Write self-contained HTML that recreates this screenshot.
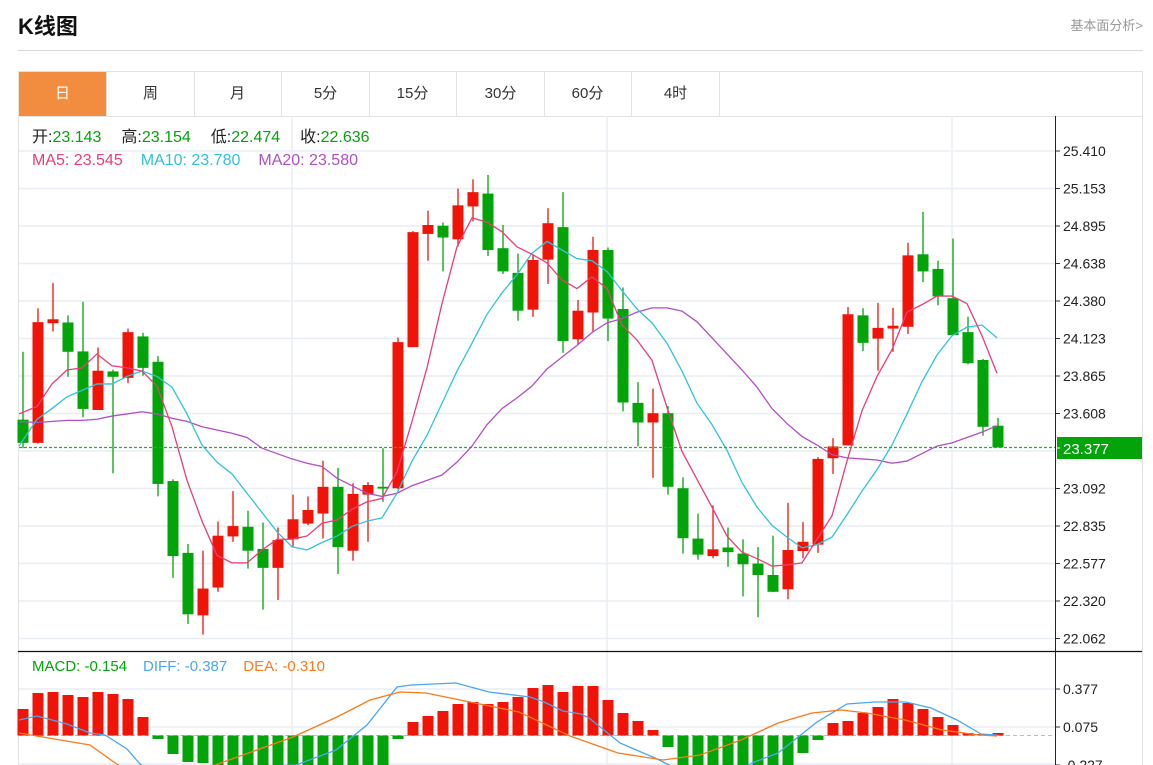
<!DOCTYPE html>
<html><head><meta charset="utf-8">
<style>
html,body{margin:0;padding:0;background:#fff;width:1153px;height:765px;overflow:hidden;font-family:"Liberation Sans","Noto Sans CJK SC",sans-serif;}
#t{position:absolute;left:18px;top:9px;font-size:22px;font-weight:bold;color:#111;}
#lk{position:absolute;right:10px;top:15px;font-size:13px;color:#999;}
#hr{position:absolute;left:18px;top:50px;width:1125px;height:1px;background:#d6d6d6;}
#tabs{position:absolute;left:18px;top:71px;width:1123px;height:44px;border:1px solid #e2e2e2;}
.tb{position:absolute;top:0;height:44px;width:87px;border-right:1px solid #e2e2e2;text-align:center;line-height:44px;font-size:15px;color:#333;}
svg{position:absolute;left:0;top:0;}
</style></head><body>
<div id="t">K线图</div>
<div id="lk">基本面分析&gt;</div>
<div id="hr"></div>
<div id="tabs">
<div class="tb" style="left:0;background:#f28c3e;color:#fff;">日</div>
<div class="tb" style="left:88px">周</div>
<div class="tb" style="left:175px">月</div>
<div class="tb" style="left:263px">5分</div>
<div class="tb" style="left:350px">15分</div>
<div class="tb" style="left:438px">30分</div>
<div class="tb" style="left:525px">60分</div>
<div class="tb" style="left:613px">4时</div>
</div>
<svg id="s" width="1153" height="765" xmlns="http://www.w3.org/2000/svg"></svg>
<script>
var s=document.getElementById('s');var h='';
var R='#f01408',G='#03a30a';
h+='<line x1="18.5" y1="116" x2="18.5" y2="765" stroke="#e2e2e2"/>';
h+='<line x1="1142.5" y1="116" x2="1142.5" y2="765" stroke="#e2e2e2"/>';
var ticks=['25.410','25.153','24.895','24.638','24.380','24.123','23.865','23.608','','23.092','22.835','22.577','22.320','22.062'];
for(var i=0;i<14;i++){var y=151+i*37.5;h+='<line x1="19" y1="'+y+'" x2="1055" y2="'+y+'" stroke="#e8eef3" stroke-width="1.5"/>';
 if(ticks[i]){h+='<line x1="1055" y1="'+y+'" x2="1060" y2="'+y+'" stroke="#333"/><text x="1063" y="'+(y+5)+'" font-size="14" fill="#222">'+ticks[i]+'</text>';}}
[292,607,952].forEach(function(x){h+='<line x1="'+x+'" y1="116" x2="'+x+'" y2="765" stroke="#e8eef3" stroke-width="1.5"/>';});
[689,727].forEach(function(y){h+='<line x1="19" y1="'+y+'" x2="1055" y2="'+y+'" stroke="#e8eef3" stroke-width="1.5"/>';});
h+='<line x1="19" y1="764" x2="1055" y2="764" stroke="#e8eef3" stroke-width="1.5"/>';
h+='<line x1="19" y1="735.5" x2="1055" y2="735.5" stroke="#9cc8e8" stroke-dasharray="4,3"/>';
var C=[['g',895,960,705,975],['r',622,960,583,962],['r',614,625,512,648],['g',623,705,603,775],['g',704,865,565,888],['r',758,868,693,868],['g',760,775,755,1045],['r',650,778,640,793],['g',662,750,652,772],['g',733,1075,717,1110],['g',1067,1277,1062,1338],['g',1268,1440,1243,1467],['r',1368,1443,1262,1497],['r',1220,1365,1180,1377],['r',1193,1222,1095,1237],['g',1195,1262,1150,1312],['g',1257,1310,1183,1427],['r',1232,1310,1197,1400],['r',1174,1230,1105,1250],['r',1148,1186,1110,1190],['r',1083,1158,1010,1228],['g',1083,1252,1030,1327],['r',1103,1262,1073,1290],['r',1078,1105,1070,1237],['g',1083,1088,975,1125],['r',678,1087,665,1090],['r',370,692,367,692],['r',350,375,310,450],['g',352,385,343,480],['r',295,390,248,410],['r',258,298,222,340],['g',262,420,210,437],['g',415,480,350,487],['g',484,590,430,618],['r',448,587,432,607],['r',345,447,303,515],['g',356,675,258,708],['r',590,670,560,683],['r',420,595,383,650],['g',420,612,413,675],['g',585,847,525,872],['g',848,903,790,970],['r',877,903,808,1058],['g',877,1083,857,1105],['g',1087,1227,1057,1270],['g',1228,1273,1158,1287],['r',1258,1277,1135,1283],['g',1253,1266,1197,1307],['g',1270,1300,1230,1390],['g',1298,1330,1252,1448],['g',1330,1377,1220,1378],['r',1260,1370,1128,1398],['r',1237,1263,1182,1283],['r',1005,1245,1000,1268],['r',970,1003,947,1047],['r',600,967,580,967],['g',603,680,583,703],['r',638,668,568,758],['r',632,640,582,705],['r',435,635,400,655],['g',432,480,313,510],['g',473,550,450,575],['g',555,658,388,658],['g',650,737,607,740],['g',728,915,725,940],['g',912,973,890,973]];
function Y(z){return 100+z/2.8;}
C.forEach(function(c,i){var x=23+15*i,col=c[0]=='r'?R:G;var t=Y(c[1]),b=Y(c[2]);if(b-t<1.5)b=t+1.5;
 h+='<line x1="'+x+'" y1="'+Y(c[3])+'" x2="'+x+'" y2="'+Y(c[4])+'" stroke="'+col+'" stroke-width="1.3"/>';
 h+='<rect x="'+(x-5.5)+'" y="'+t+'" width="11" height="'+(b-t)+'" fill="'+col+'"/>';});
function F(y){return 100+(y-100)*3/2.8;}
function pl(a,col,f){var p=[];for(var i=0;i<a.length;i+=2)p.push(a[i]+','+(f?F(a[i+1]):a[i+1]));return '<polyline points="'+p.join(' ')+'" fill="none" stroke="'+col+'" stroke-width="1.3"/>';}
var ma5=[19,393,37,386,52,365,67,352,82,350,97,337,112,348,127,350,142,353,157,367,172,405,187,455,202,493,217,525,232,532,247,532,262,520,277,510,292,510,307,507,322,495,337,492,352,482,367,475,382,472,397,447,412,400,427,350,442,290,457,237,472,210,487,214,502,223,517,237,532,244,547,252,562,268,577,276,592,265,607,276,622,310,637,324,652,343,667,387,682,428,697,454,712,480,727,507,742,522,757,528,772,535,787,534,802,532,817,510,832,488,847,437,862,390,877,358,892,333,907,298,922,291,937,283,952,283,967,290,982,320,997,355];
var ma10=[19,423,37,398,52,388,67,377,82,371,97,365,112,365,127,358,142,353,157,358,172,368,187,393,202,422,217,438,232,449,247,467,262,485,277,503,292,517,307,520,322,513,337,507,352,498,367,493,382,490,397,467,412,437,427,413,442,383,457,353,472,327,487,300,502,280,517,263,532,243,547,232,562,240,577,248,592,250,607,260,622,278,637,295,652,308,667,327,682,353,697,383,712,403,727,427,742,457,757,480,772,497,787,508,802,518,817,515,832,508,847,487,862,465,877,445,892,422,907,393,922,363,937,338,952,320,967,312,982,310,997,322];
var ma20=[19,400,37,401,67,399,82,399,97,398,112,395,127,393,142,391,157,393,172,397,187,400,202,405,217,408,232,411,247,415,262,425,277,430,292,435,307,439,322,442,337,453,352,460,367,467,382,470,397,467,412,460,427,455,442,450,457,438,472,423,487,403,502,388,517,378,532,367,547,351,562,340,577,329,592,317,607,308,622,304,637,298,652,294,667,294,682,297,697,307,712,322,727,337,742,352,757,368,772,388,787,402,802,414,817,422,832,431,847,434,862,435,877,436,892,439,907,437,922,430,937,423,952,420,967,415,982,410,997,404];
h+='<defs><clipPath id="cp"><rect x="19" y="116" width="1036" height="534"/></clipPath><clipPath id="cm"><rect x="19" y="652" width="1036" height="113"/></clipPath></defs>';
h+='<g clip-path="url(#cp)">'+pl(ma20,'#b04fc6',1)+pl(ma10,'#2fc3da',1)+pl(ma5,'#ec3c78',1)+'</g>';
h+='<line x1="19" y1="447.5" x2="1055" y2="447.5" stroke="#1db51d" stroke-width="1.2" stroke-dasharray="3,2"/>';
h+='<rect x="1057" y="437" width="85" height="22" fill="#03a30a"/><line x1="1055" y1="448" x2="1060" y2="448" stroke="#fff"/><text x="1063" y="454" font-size="15" fill="#fff">23.377</text>';
var MB=[709,693,692,695,697,692,694,699,717,739,754,762,763,766,766,766,766,766,766,766,766,766,766,766,766,739,722,716,711,704,702,704,702,697,688,685,692,686,686,700,713,721,730,747,766,766,766,766,766,766,766,766,753,740,723,721,713,707,699,703,709,717,725,733,734,734];
MB.forEach(function(v,i){var x=23+15*i;var z=735.5;var col=v<z?R:G;var t=Math.min(v,z),b=Math.max(v,z);if(i==65){col=R;t=733;}
 h+='<rect x="'+(x-5.5)+'" y="'+t+'" width="11" height="'+(b-t)+'" fill="'+col+'"/>';});
var diff=[19,720,37,716,67,724,90,733,105,735,127,749,140,764,150,770,296,765,336,750,367,725,397,687,411,685,456,683,489,692,530,697,544,702,563,711,581,714,589,718,620,743,655,758,665,763,680,770,740,770,752,763,778,753,817,722,847,704,875,702,906,702,931,708,957,720,981,734,997,735];
var dea=[19,733,90,745,118,765,130,770,200,770,215,765,293,737,337,717,370,700,400,692,426,693,470,702,519,712,570,736,618,753,663,760,700,755,741,740,778,723,812,713,841,710,867,713,905,720,942,730,979,735,997,736];
h+='<g clip-path="url(#cm)">'+pl(diff,'#4aa6ee',0)+pl(dea,'#fb7a1a',0)+'</g>';
h+='<line x1="18" y1="651.5" x2="1142" y2="651.5" stroke="#111" stroke-width="1.3"/>';
h+='<line x1="1055.5" y1="116" x2="1055.5" y2="765" stroke="#222"/>';
[[689,'0.377'],[727,'0.075'],[765,'-0.227']].forEach(function(a){h+='<line x1="1055" y1="'+a[0]+'" x2="1060" y2="'+a[0]+'" stroke="#333"/><text x="1063" y="'+(a[0]+5)+'" font-size="14" fill="#222">'+a[1]+'</text>';});
h+='<text x="32" y="142" font-size="16"><tspan fill="#222">开:</tspan><tspan fill="'+G+'">23.143</tspan><tspan fill="#222" dx="20">高:</tspan><tspan fill="'+G+'">23.154</tspan><tspan fill="#222" dx="20">低:</tspan><tspan fill="'+G+'">22.474</tspan><tspan fill="#222" dx="20">收:</tspan><tspan fill="'+G+'">22.636</tspan></text>';
h+='<text x="32" y="165" font-size="16"><tspan fill="#ec3c78">MA5:  23.545</tspan><tspan fill="#2fc3da" dx="18">MA10:  23.780</tspan><tspan fill="#b04fc6" dx="18">MA20:  23.580</tspan></text>';
h+='<text x="32" y="671" font-size="15"><tspan fill="'+G+'">MACD: -0.154</tspan><tspan fill="#4aa6ee" dx="16">DIFF: -0.387</tspan><tspan fill="#fb7a1a" dx="16">DEA: -0.310</tspan></text>';
s.innerHTML=h;
</script>
</body></html>
